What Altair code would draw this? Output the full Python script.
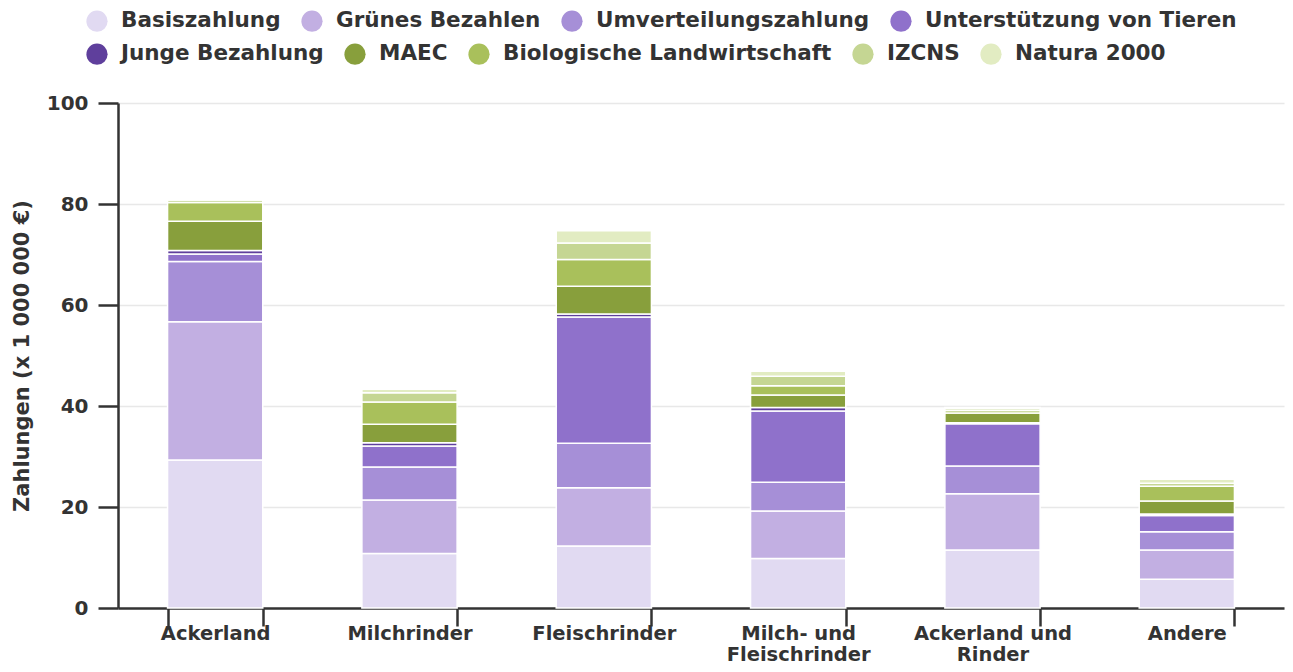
import altair as alt
import pandas as pd

categories = ["Ackerland", "Milchrinder", "Fleischrinder", "Milch- und Fleischrinder",
              "Ackerland und Rinder", "Andere"]
x_label_lines = {"Milch- und Fleischrinder": ["Milch- und", "Fleischrinder"],
                 "Ackerland und Rinder": ["Ackerland und", "Rinder"]}

series_names = ["Basiszahlung", "Grünes Bezahlen", "Umverteilungszahlung", "Unterstützung von Tieren",
                "Junge Bezahlung", "MAEC", "Biologische Landwirtschaft", "IZCNS", "Natura 2000"]
colors = ["#e1daf2", "#c2afe2", "#a68fd7", "#8f71cb", "#5f3f9c",
          "#889f3c", "#a9c05b", "#c5d693", "#e2ecc2"]

basis = [29.3, 10.8, 12.3, 9.8, 11.5, 5.7]
gruenes = [27.4, 10.6, 11.5, 9.4, 11.1, 5.8]
umverteilung = [11.9, 6.5, 8.8, 5.7, 5.5, 3.6]
tiere = [1.5, 4.2, 25.0, 14.1, 8.4, 3.2]
junge = [0.7, 0.6, 0.6, 0.7, 0.2, 0.3]
maec = [5.8, 3.7, 5.5, 2.5, 1.9, 2.6]
bio = [3.7, 4.4, 5.3, 1.8, 0.5, 2.9]
izcns = [0.5, 1.8, 3.3, 1.9, 0.4, 0.6]
natura = [0.2, 0.7, 2.4, 1.0, 0.2, 0.8]

series_values = [basis, gruenes, umverteilung, tiere, junge, maec, bio, izcns, natura]

rows = []
for ci, cat in enumerate(categories):
    base = 0.0
    for si, name in enumerate(series_names):
        v = series_values[si][ci]
        rows.append({"Kategorie": cat, "Art": name, "order": si,
                     "y0": base, "y1": base + v, "Wert": v})
        base += v
df = pd.DataFrame(rows)

FONT = "DejaVu Sans"
TXT = "#333333"

expr_parts = []
for k, v in x_label_lines.items():
    expr_parts.append(f"datum.label == '{k}' ? {v!r}")
label_expr = " : ".join(expr_parts) + " : datum.label"

x_enc = alt.X("Kategorie:N", sort=categories,
              scale=alt.Scale(paddingInner=0.51, paddingOuter=0.255),
              axis=alt.Axis(title=None, labelAngle=0, tickBand="extent", tickSize=18,
                            labelExpr=label_expr, labelLineHeight=21, labelPadding=-2,
                            labelFont=FONT, labelFontWeight="bold", labelFontSize=19.5,
                            labelColor=TXT, domainColor=TXT, domainWidth=2.5,
                            tickColor=TXT, tickWidth=2.5, grid=False))
y_enc = alt.Y("y0:Q", scale=alt.Scale(domain=[0, 100]),
              axis=alt.Axis(title="Zahlungen (x 1 000 000 €)", values=[0, 20, 40, 60, 80, 100],
                            tickSize=20, labelPadding=10, labelFont=FONT, labelFontWeight="bold",
                            labelFontSize=20, labelColor=TXT, titleFont=FONT, titleFontWeight="bold",
                            titleFontSize=21, titleColor=TXT, titlePadding=14,
                            domainColor=TXT, domainWidth=2.5, tickColor=TXT, tickWidth=2.5,
                            grid=True, gridColor="#e8e8e8", gridWidth=1.5))


def legend(xpos, ypos, n):
    return alt.Legend(title=None, orient="none", legendX=xpos, legendY=ypos, direction="horizontal",
                      columns=n, symbolType="circle", symbolSize=450, symbolStrokeWidth=0,
                      labelFont=FONT, labelFontWeight="bold", labelFontSize=21.5, labelColor=TXT,
                      labelOffset=13, columnPadding=20, labelLimit=500)


first = series_names[:4]
second = series_names[4:]

layer1 = alt.Chart(df).transform_filter(
    alt.FieldOneOfPredicate(field="Art", oneOf=first)
).mark_bar(stroke="white", strokeWidth=1.5).encode(
    x=x_enc, y=y_enc, y2="y1:Q",
    color=alt.Color("Art:N", scale=alt.Scale(domain=first, range=colors[:4]),
                    sort=first, legend=legend(-32, -93, 4)),
    tooltip=["Kategorie", "Art", "Wert"],
)

layer2 = alt.Chart(df).transform_filter(
    alt.FieldOneOfPredicate(field="Art", oneOf=second)
).mark_bar(stroke="white", strokeWidth=1.5).encode(
    x=alt.X("Kategorie:N", sort=categories), y="y0:Q", y2="y1:Q",
    color=alt.Color("Art:N", scale=alt.Scale(domain=second, range=colors[4:]),
                    sort=second, legend=legend(-32, -60, 5)),
    tooltip=["Kategorie", "Art", "Wert"],
)

chart = alt.layer(layer1, layer2).resolve_scale(color="independent").properties(
    width=1166, height=505,
    autosize=alt.AutoSizeParams(type="none"),
    padding={"left": 110, "top": 95, "right": 1, "bottom": 56},
).configure_view(stroke=None)

chart.save("out.html", embed_options={"renderer": "svg", "actions": False})
